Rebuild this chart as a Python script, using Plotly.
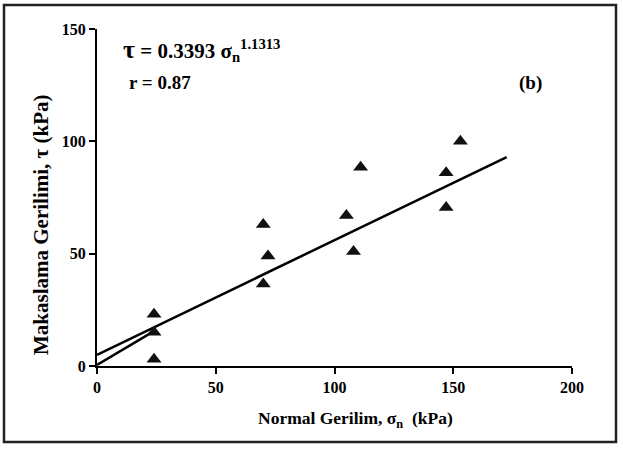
import plotly.graph_objects as go

# Data
sigma_n = [24, 24, 24, 70, 72, 70, 105, 108, 111, 147, 147, 153]
tau = [23, 15, 3, 63, 49, 36.5, 67, 51, 88.5, 86, 70.5, 100]

fit_x = [0, 172.5]
fit_y = [5, 93]
curve_x = [0, 24]
curve_y = [0.5, 15.5]

x_ticks = [0, 50, 100, 150, 200]
y_ticks = [0, 50, 100, 150]

W, H = 623, 453
L, R, T, B = 97, 572, 29, 366
pw, ph = R - L, B - T

def px_x(p):
    return (p - L) / pw

def px_y(p):
    return (B - p) / ph

FONT = "Liberation Serif"

fig = go.Figure()
fig.add_trace(go.Scatter(x=fit_x, y=fit_y, mode="lines",
                         line=dict(color="black", width=2.5), showlegend=False))
fig.add_trace(go.Scatter(x=curve_x, y=curve_y, mode="lines",
                         line=dict(color="black", width=2.5), showlegend=False))
fig.add_trace(go.Scatter(x=sigma_n, y=tau, mode="markers",
                         marker=dict(symbol="triangle-up", size=13, color="#111111"),
                         showlegend=False))

axis_common = dict(showline=True, linecolor="black", linewidth=2,
                   ticks="outside", ticklen=6, tickwidth=2, tickcolor="black",
                   showgrid=False, zeroline=False,
                   tickfont=dict(family=FONT, size=16, color="black", weight="bold"))

fig.update_layout(
    width=W, height=H,
    margin=dict(l=L, r=W - R, t=T, b=H - B),
    paper_bgcolor="white", plot_bgcolor="white",
    xaxis=dict(range=[0, 200], tickvals=x_ticks, **axis_common),
    yaxis=dict(range=[0, 150], tickvals=y_ticks, **axis_common),
    shapes=[dict(type="rect", xref="paper", yref="paper",
                 x0=px_x(4), x1=px_x(616), y0=px_y(442), y1=px_y(5),
                 line=dict(color="#222222", width=2.5), layer="below")],
    annotations=[
        dict(text="Normal Gerilim, σ<sub>n</sub>  (kPa)", xref="paper", yref="paper",
             x=px_x(355), y=px_y(419), showarrow=False, xanchor="center", yanchor="middle",
             font=dict(family=FONT, size=17.5, color="black", weight="bold")),
        dict(text="Makaslama Gerilimi, τ (kPa)", xref="paper", yref="paper",
             x=px_x(41), y=px_y(225), showarrow=False, textangle=-90,
             xanchor="center", yanchor="middle",
             font=dict(family=FONT, size=21, color="black", weight="bold")),
        dict(text="<span style='font-size:26px'>τ</span> = 0.3393 σ<sub>n</sub><sup>1.1313</sup>",
             xref="paper", yref="paper",
             x=px_x(121), y=px_y(50), showarrow=False, xanchor="left", yanchor="middle",
             font=dict(family=FONT, size=21, color="black", weight="bold")),
        dict(text="r = 0.87", xref="paper", yref="paper",
             x=px_x(127), y=px_y(82), showarrow=False, xanchor="left", yanchor="middle",
             font=dict(family=FONT, size=19, color="black", weight="bold")),
        dict(text="(b)", xref="paper", yref="paper",
             x=px_x(530), y=px_y(83), showarrow=False, xanchor="center", yanchor="middle",
             font=dict(family=FONT, size=19, color="black", weight="bold")),
    ],
)

fig.write_html("out.html", config={"displayModeBar": False},
               post_script="document.body.style.margin='0px';")
